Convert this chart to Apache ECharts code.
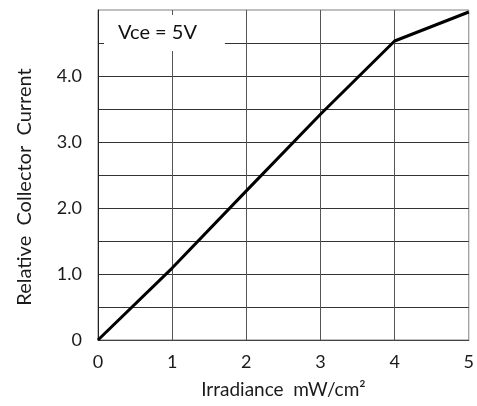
<!DOCTYPE html>
<html>
<head>
<meta charset="utf-8">
<script src="https://cdn.jsdelivr.net/npm/echarts@6/dist/echarts.min.js"></script>
<style>html,body{margin:0;padding:0;background:#fff}#c{width:477px;height:406px}</style>
</head>
<body>
<div id="c"></div>
<script>
const irradiance = [0, 1, 2, 3, 4, 5];
const relCurrent = [0, 1.09, 2.26, 3.42, 4.53, 4.97];
const yTickLabels = {0: '0', 1: '1.0', 2: '2.0', 3: '3.0', 4: '4.0'};
const xName = 'Irradiance  mW/cm²';
const yName = 'Relative  Collector  Current';
const note = 'Vce = 5V';

const FONT = 'Lato';
const chart = echarts.init(document.getElementById('c'), null, {renderer: 'canvas'});
chart.setOption({
  animation: false,
  backgroundColor: '#fff',
  textStyle: {fontFamily: FONT},
  title: {
    text: note,
    left: 104, top: 15,
    padding: [8, 28, 8, 14],
    backgroundColor: '#fff',
    textStyle: {fontFamily: FONT, fontSize: 20, fontWeight: 'normal', color: '#111'}
  },
  grid: {left: 98, right: 7, top: 10, bottom: 66, show: true, borderColor: '#808080', borderWidth: 1},
  xAxis: {
    type: 'value', min: 0, max: 5, interval: 1,
    name: xName, nameLocation: 'middle', nameGap: 40,
    nameTextStyle: {fontFamily: FONT, fontSize: 19, color: '#1a1a1a'},
    axisLine: {show: true, lineStyle: {color: '#444', width: 1}},
    axisTick: {show: false},
    axisLabel: {fontFamily: FONT, fontSize: 18, color: '#1a1a1a', margin: 13},
    splitLine: {show: true, showMinLine: false, showMaxLine: false, lineStyle: {color: '#555', width: 1}}
  },
  yAxis: {
    type: 'value', min: 0, max: 5, interval: 0.5,
    name: yName, nameLocation: 'middle', nameGap: 63,
    nameTextStyle: {fontFamily: FONT, fontSize: 20, color: '#1a1a1a', padding: [0, 24, 0, 0]},
    axisLine: {show: true, lineStyle: {color: '#222', width: 1}},
    axisTick: {show: false},
    axisLabel: {
      fontFamily: FONT, fontSize: 18, color: '#1a1a1a', margin: 16,
      formatter: v => (yTickLabels[v] !== undefined ? yTickLabels[v] : '')
    },
    splitLine: {show: true, showMinLine: false, showMaxLine: false, lineStyle: {color: '#333', width: 1}}
  },
  series: [{
    type: 'line',
    data: irradiance.map((x, i) => [x, relCurrent[i]]),
    showSymbol: false,
    lineStyle: {color: '#000', width: 3},
    z: 3
  }]
});
</script>
</body>
</html>
